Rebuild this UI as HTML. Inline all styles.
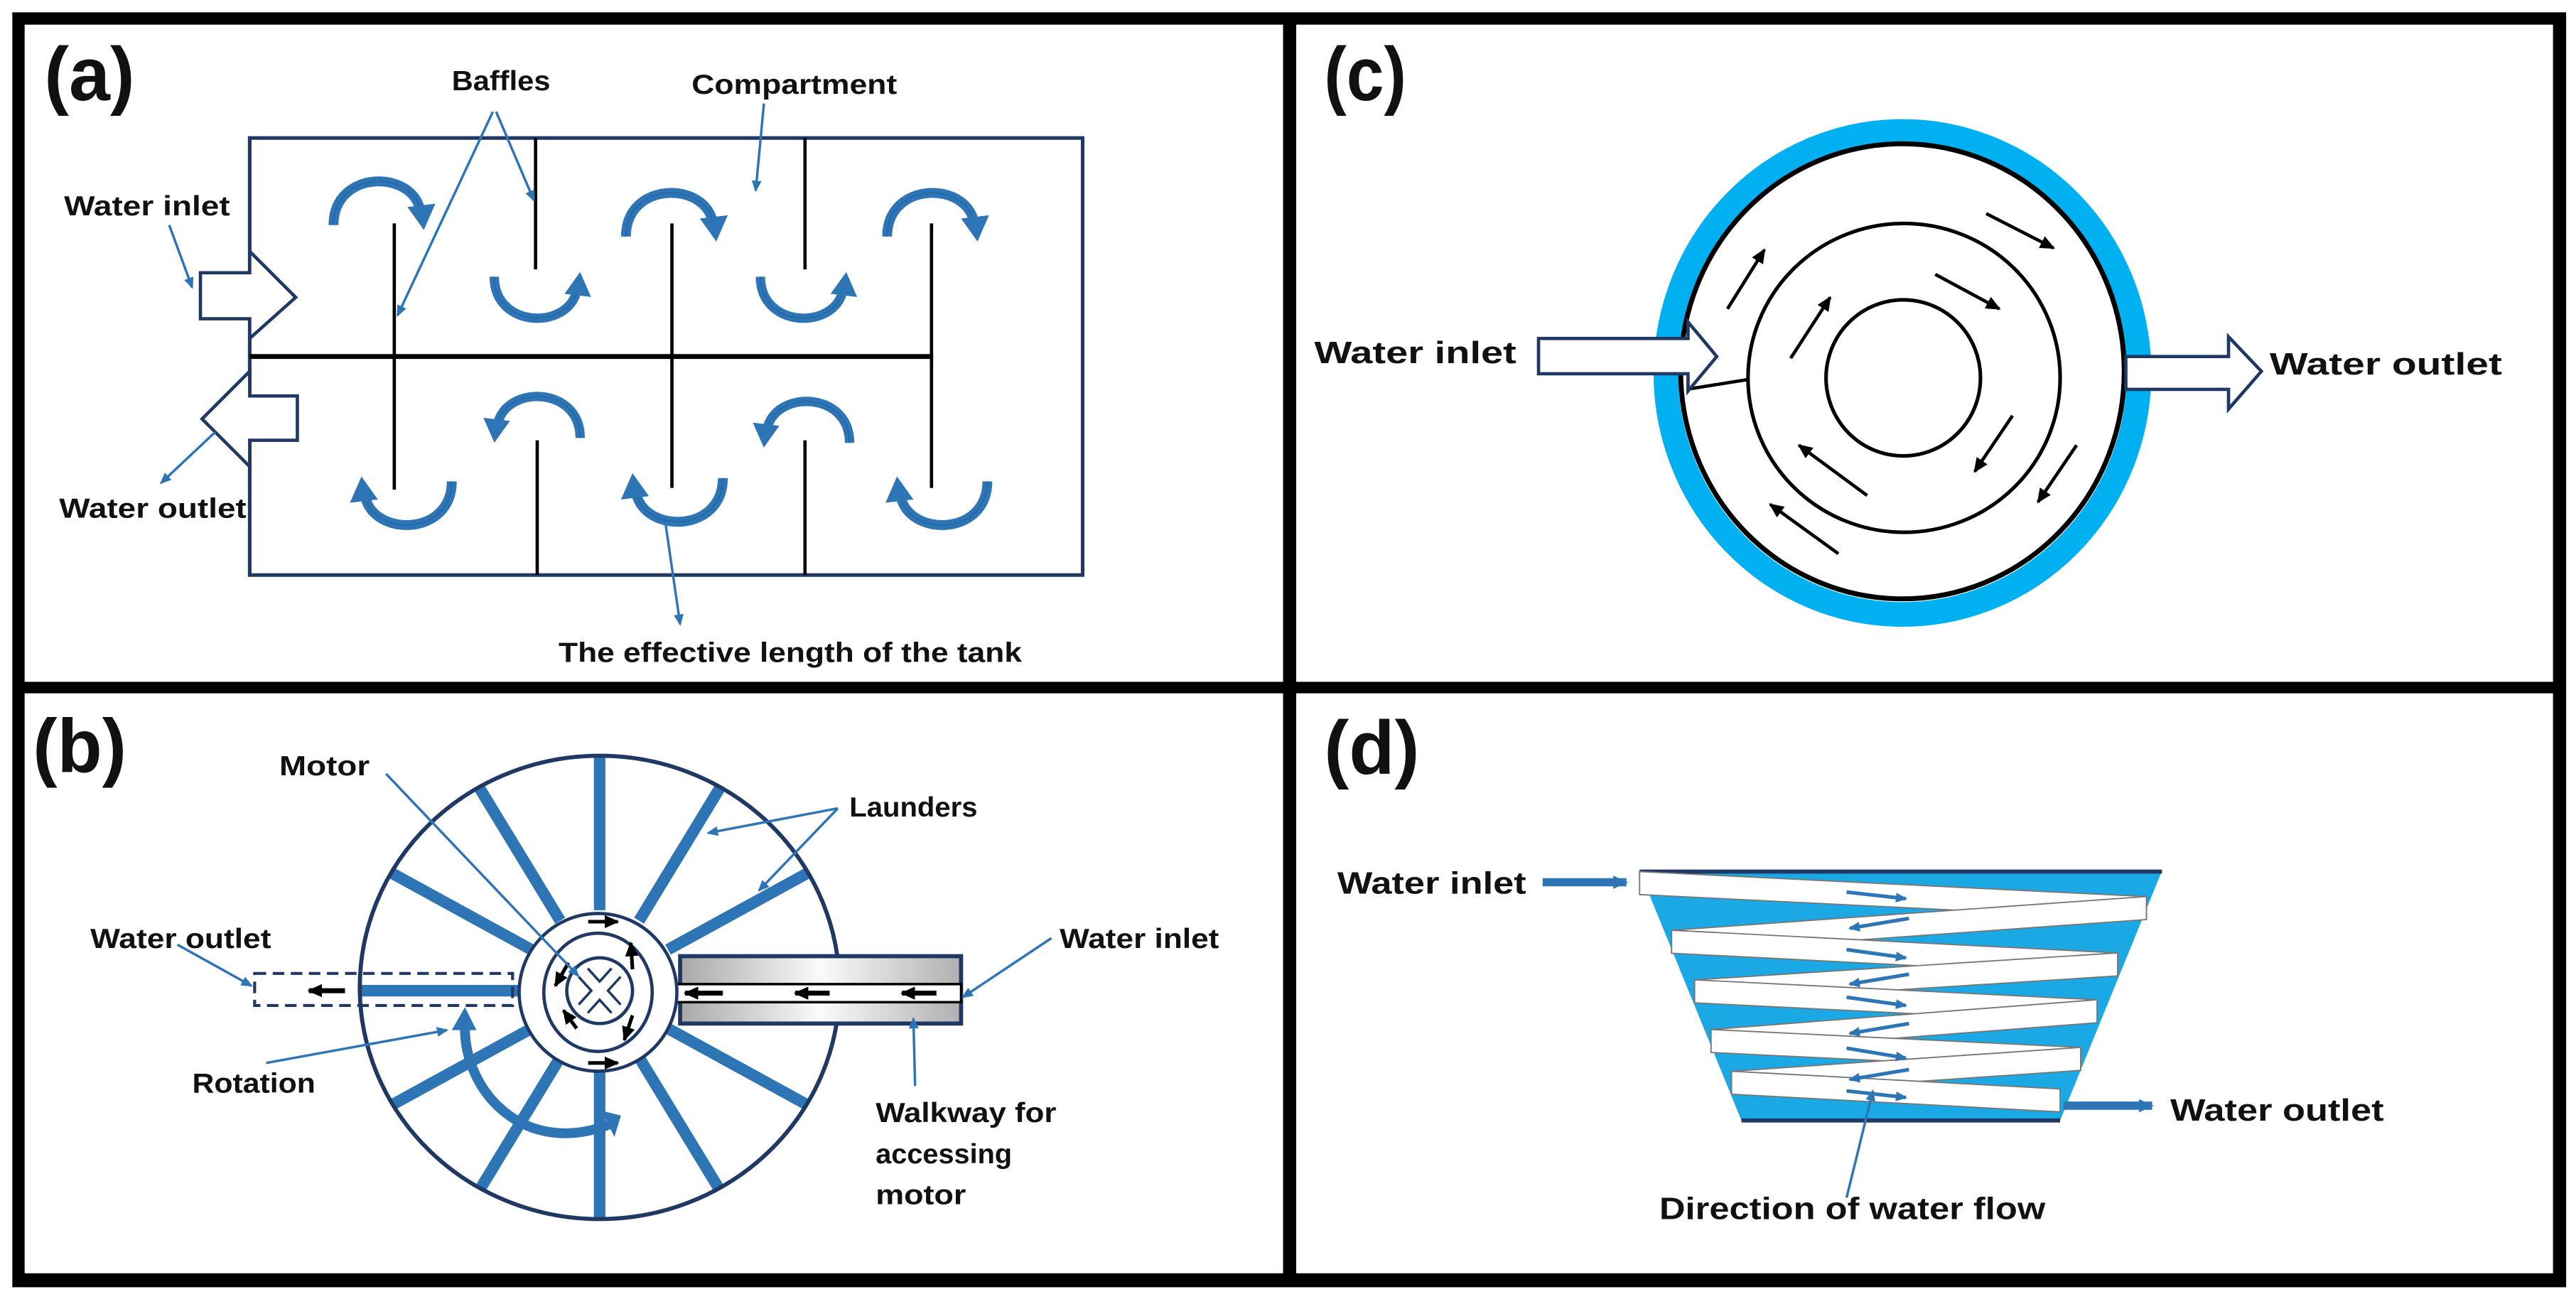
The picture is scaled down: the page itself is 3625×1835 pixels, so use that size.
<!DOCTYPE html>
<html><head><meta charset="utf-8"><style>html,body{margin:0;padding:0;background:#fff}svg{display:block}text{font-family:"Liberation Sans",sans-serif;font-weight:bold;fill:#111}</style></head>
<body>
<svg width="3625" height="1835" viewBox="0 0 1568 793.7" preserveAspectRatio="none" xmlns="http://www.w3.org/2000/svg">
<defs>
<marker id="mb" markerWidth="8" markerHeight="8" refX="6" refY="4" orient="auto" markerUnits="userSpaceOnUse"><path d="M0,1 L7,4 L0,7 z" fill="#2e75b6"/></marker>
<marker id="mk" markerWidth="10" markerHeight="10" refX="8" refY="5" orient="auto" markerUnits="userSpaceOnUse"><path d="M0,1 L9,5 L0,9 z" fill="#000"/></marker>
<marker id="mb2" markerWidth="10" markerHeight="10" refX="8" refY="5" orient="auto" markerUnits="userSpaceOnUse"><path d="M0,1 L9,5 L0,9 z" fill="#2e75b6"/></marker>
<g id="dome">
<path d="M3,28 C3,-6 52,-6 56,20" fill="none" stroke="#2e75b6" stroke-width="6"/>
<path d="M3,28 C3,-6 52,-6 56,20" fill="none" stroke="#1f5f9e" stroke-width="1" opacity="0.5"/>
<polygon points="48,17 65,15 58,31" fill="#2e75b6"/>
</g>
<linearGradient id="gw" x1="0" y1="0" x2="1" y2="0"><stop offset="0" stop-color="#a8a8a8"/><stop offset="0.5" stop-color="#fafafa"/><stop offset="1" stop-color="#b0b0b0"/></linearGradient>
</defs>

<rect x="0" y="0" width="1568" height="793.7" fill="#fff"/>
<rect x="7.5" y="7.5" width="1554.5" height="776" fill="#000"/>
<rect x="15" y="15" width="766" height="400" fill="#fff"/>
<rect x="789" y="15" width="765" height="400" fill="#fff"/>
<rect x="15" y="422" width="766" height="353" fill="#fff"/>
<rect x="789" y="422" width="765" height="353" fill="#fff"/>

<!-- (a) -->
<text x="27" y="61" font-size="46" textLength="55" lengthAdjust="spacingAndGlyphs">(a)</text>
<rect x="152" y="84" width="507" height="266" fill="none" stroke="#1f3864" stroke-width="2.2"/>
<line x1="152" y1="217" x2="568" y2="217" stroke="#000" stroke-width="3"/>
<g stroke="#000" stroke-width="2">
<line x1="240" y1="136" x2="240" y2="298"/>
<line x1="409" y1="136" x2="409" y2="297"/>
<line x1="567" y1="136" x2="567" y2="297"/>
<line x1="326" y1="84" x2="326" y2="164"/>
<line x1="490" y1="84" x2="490" y2="164"/>
<line x1="327" y1="268" x2="327" y2="350"/>
<line x1="490" y1="268" x2="490" y2="350"/>
</g>
<use href="#dome" transform="translate(200,109)"/>
<use href="#dome" transform="translate(378,116)"/>
<use href="#dome" transform="translate(537,116)"/>
<use href="#dome" transform="translate(298,195) scale(0.95,-0.95)"/>
<use href="#dome" transform="translate(460,195) scale(0.95,-0.95)"/>
<use href="#dome" transform="translate(356,240) scale(-0.95,0.95)"/>
<use href="#dome" transform="translate(520,243) scale(-0.95,0.95)"/>
<use href="#dome" transform="translate(278,321) scale(-1,-1)"/>
<use href="#dome" transform="translate(443,319) scale(-1,-1)"/>
<use href="#dome" transform="translate(604,321) scale(-1,-1)"/>
<polygon points="122,166 152,166 152,153 180,181 152,206 152,194 122,194" fill="#fff" stroke="#1f3864" stroke-width="2"/>
<polygon points="181,241 152,241 152,226 123,255 152,284 152,268 181,268" fill="#fff" stroke="#1f3864" stroke-width="2"/>
<g stroke="#2e75b6" stroke-width="1.5" fill="none" marker-end="url(#mb)">
<line x1="103" y1="137" x2="117" y2="175"/>
<line x1="131" y1="263" x2="98" y2="294"/>
<line x1="300" y1="68" x2="242" y2="192"/>
<line x1="302" y1="68" x2="325" y2="122"/>
<line x1="465" y1="63" x2="460" y2="116"/>
<line x1="405" y1="318" x2="414" y2="380"/>
</g>
<text x="39" y="131" font-size="17" textLength="101" lengthAdjust="spacingAndGlyphs">Water inlet</text>
<text x="36" y="315" font-size="17" textLength="114" lengthAdjust="spacingAndGlyphs">Water outlet</text>
<text x="275" y="55" font-size="17" textLength="60" lengthAdjust="spacingAndGlyphs">Baffles</text>
<text x="421" y="57" font-size="17" textLength="125" lengthAdjust="spacingAndGlyphs">Compartment</text>
<text x="340" y="403" font-size="17" textLength="282" lengthAdjust="spacingAndGlyphs">The effective length of the tank</text>

<!-- (c) -->
<text x="806" y="61" font-size="46" textLength="50" lengthAdjust="spacingAndGlyphs">(c)</text>
<ellipse cx="1158" cy="227" rx="144" ry="147" fill="none" stroke="#00b0f0" stroke-width="15"/>
<ellipse cx="1158" cy="226" rx="135" ry="138.5" fill="#fff" stroke="#000" stroke-width="3"/>
<ellipse cx="1159" cy="230" rx="95" ry="94" fill="none" stroke="#000" stroke-width="2.2"/>
<ellipse cx="1158.5" cy="230" rx="47" ry="47.5" fill="none" stroke="#000" stroke-width="2.2"/>
<line x1="1026.5" y1="237" x2="1064" y2="231" stroke="#000" stroke-width="2"/>
<polygon points="936.5,206 1027.5,206 1027.5,196 1045,217 1027.5,238 1027.5,227.5 936.5,227.5" fill="#fff" stroke="#1f3864" stroke-width="2"/>
<polygon points="1294,217 1356.5,217 1356.5,205 1376.5,226 1356.5,249 1356.5,237 1294,237" fill="#fff" stroke="#1f3864" stroke-width="2"/>
<g stroke="#000" stroke-width="2" marker-end="url(#mk)">
<line x1="1051.5" y1="188" x2="1074" y2="152"/>
<line x1="1209" y1="130" x2="1250" y2="151"/>
<line x1="1090" y1="218" x2="1114" y2="181"/>
<line x1="1178" y1="167" x2="1217" y2="188"/>
<line x1="1225" y1="253" x2="1202" y2="287"/>
<line x1="1264" y1="271" x2="1240.5" y2="305.6"/>
<line x1="1136.5" y1="301.6" x2="1095" y2="271"/>
<line x1="1119" y1="337" x2="1077.5" y2="307"/>
</g>
<text x="800" y="221" font-size="19" textLength="123" lengthAdjust="spacingAndGlyphs">Water inlet</text>
<text x="1381.5" y="228" font-size="19" textLength="141.5" lengthAdjust="spacingAndGlyphs">Water outlet</text>

<!-- (b) -->
<text x="20" y="470" font-size="46" textLength="57" lengthAdjust="spacingAndGlyphs">(b)</text>
<g stroke="#2e75b6" stroke-width="7">
<line x1="406.6" y1="578" x2="491.4" y2="531.5"/>
<line x1="389" y1="560.4" x2="438" y2="479.9"/>
<line x1="365" y1="554" x2="365" y2="461"/>
<line x1="341" y1="560.4" x2="292" y2="479.9"/>
<line x1="323.4" y1="578" x2="238.6" y2="531.5"/>
<line x1="317" y1="603" x2="220" y2="603"/>
<line x1="323.4" y1="626" x2="238.6" y2="672.5"/>
<line x1="341" y1="643.6" x2="292" y2="724.1"/>
<line x1="365" y1="650" x2="365" y2="743"/>
<line x1="389" y1="643.6" x2="438" y2="724.1"/>
<line x1="406.6" y1="626" x2="491.4" y2="672.5"/>
</g>
<ellipse cx="365" cy="601" rx="146" ry="141" fill="none" stroke="#1f3864" stroke-width="2.5"/>
<rect x="155" y="592.5" width="157" height="19.5" fill="none" stroke="#1f3864" stroke-width="1.8" stroke-dasharray="7,4"/>
<line x1="210" y1="603" x2="188" y2="603" stroke="#000" stroke-width="3" marker-end="url(#mk)"/>
<rect x="414" y="582" width="171" height="41" fill="url(#gw)" stroke="#1f3864" stroke-width="2.5"/>
<rect x="403" y="599" width="182" height="11" fill="#fff" stroke="#000" stroke-width="1.5"/>
<g stroke="#000" stroke-width="3" marker-end="url(#mk)">
<line x1="440" y1="604.5" x2="417" y2="604.5"/>
<line x1="505" y1="604.5" x2="484" y2="604.5"/>
<line x1="570" y1="604.5" x2="549" y2="604.5"/>
</g>
<circle cx="364" cy="604" r="48" fill="#fff" stroke="#1f3864" stroke-width="2"/>
<ellipse cx="364" cy="604" rx="33" ry="36" fill="#fff" stroke="#1f3864" stroke-width="2"/>
<circle cx="365" cy="603" r="20" fill="#fff" stroke="#1f3864" stroke-width="2"/>
<g stroke="#1f3864" stroke-width="9" stroke-linecap="butt"><line x1="355" y1="592" x2="375" y2="614"/><line x1="375" y1="592" x2="355" y2="614"/></g>
<g stroke="#fff" stroke-width="6"><line x1="355" y1="592" x2="375" y2="614"/><line x1="375" y1="592" x2="355" y2="614"/></g>
<g stroke="#000" stroke-width="2.2" marker-end="url(#mk)">
<line x1="358" y1="561" x2="376" y2="561"/>
<line x1="358" y1="647" x2="376" y2="647"/>
<line x1="346" y1="586" x2="338" y2="600"/>
<line x1="385" y1="590" x2="384" y2="574"/>
<line x1="351" y1="626" x2="343" y2="615"/>
<line x1="385" y1="618" x2="380" y2="633"/>
</g>
<path d="M283,624 C282,665 320,705 372,684" fill="none" stroke="#2e75b6" stroke-width="6"/>
<polygon points="275,627 290,627 283,613" fill="#2e75b6"/>
<polygon points="366,676 378,679 374,692" fill="#2e75b6"/>
<g stroke="#2e75b6" stroke-width="1.5" fill="none" marker-end="url(#mb)">
<line x1="235" y1="471" x2="352" y2="594"/>
<line x1="510" y1="492" x2="431" y2="507"/>
<line x1="510" y1="492" x2="462" y2="542"/>
<line x1="108" y1="575" x2="153" y2="600"/>
<line x1="640" y1="571" x2="586" y2="607"/>
<line x1="162" y1="647" x2="272" y2="627"/>
<line x1="557" y1="661" x2="556" y2="620"/>
</g>
<text x="170" y="472" font-size="17" textLength="55" lengthAdjust="spacingAndGlyphs">Motor</text>
<text x="517" y="497" font-size="17" textLength="78" lengthAdjust="spacingAndGlyphs">Launders</text>
<text x="55" y="577" font-size="17" textLength="110" lengthAdjust="spacingAndGlyphs">Water outlet</text>
<text x="645" y="577" font-size="17" textLength="97" lengthAdjust="spacingAndGlyphs">Water inlet</text>
<text x="117" y="665" font-size="17" textLength="75" lengthAdjust="spacingAndGlyphs">Rotation</text>
<text x="533" y="683" font-size="17" textLength="110" lengthAdjust="spacingAndGlyphs">Walkway for</text>
<text x="533" y="708" font-size="17" textLength="83" lengthAdjust="spacingAndGlyphs">accessing</text>
<text x="533" y="733" font-size="17" textLength="55" lengthAdjust="spacingAndGlyphs">motor</text>

<!-- (d) -->
<text x="806" y="471" font-size="46" textLength="58" lengthAdjust="spacingAndGlyphs">(d)</text>
<polygon points="998,530 1316,530 1254,682 1060,682" fill="#1aa9e4"/>
<line x1="998" y1="530.5" x2="1316" y2="530.5" stroke="#1f3864" stroke-width="2.5"/>
<line x1="1060" y1="682" x2="1254" y2="682" stroke="#1f3864" stroke-width="2.5"/>
<g fill="#fff" stroke="#777" stroke-width="0.8">
<polygon points="998,530.5 1306.5,545.7 1306.5,559.7 998,544.5"/>
<polygon points="1306.5,545.7 1017.5,566.2 1017.5,580.2 1306.5,559.7"/>
<polygon points="1017.5,566.2 1289,580 1289,594 1017.5,580.2"/>
<polygon points="1289,580 1031.5,596.4 1031.5,610.4 1289,594"/>
<polygon points="1031.5,596.4 1276.5,608.5 1276.5,622.5 1031.5,610.4"/>
<polygon points="1276.5,608.5 1041.5,626.6 1041.5,640.6 1276.5,622.5"/>
<polygon points="1041.5,626.6 1266.5,637.5 1266.5,651.5 1041.5,640.6"/>
<polygon points="1266.5,637.5 1054,652 1054,666 1266.5,651.5"/>
<polygon points="1054,652 1254,662.8 1254,676.8 1054,666"/>
</g>
<g stroke="#2e75b6" stroke-width="2.2" marker-end="url(#mb)">
<line x1="1124" y1="543" x2="1160" y2="547"/>
<line x1="1162" y1="559" x2="1126" y2="565"/>
<line x1="1124" y1="578" x2="1160" y2="583"/>
<line x1="1162" y1="593" x2="1126" y2="599"/>
<line x1="1124" y1="607" x2="1160" y2="612"/>
<line x1="1162" y1="623" x2="1126" y2="629"/>
<line x1="1124" y1="638" x2="1160" y2="644"/>
<line x1="1162" y1="651" x2="1126" y2="657"/>
<line x1="1124" y1="664" x2="1160" y2="668"/>
</g>
<line x1="939" y1="537" x2="990" y2="537" stroke="#2e75b6" stroke-width="5" marker-end="url(#mb2)"/>
<line x1="1256" y1="673" x2="1310" y2="673" stroke="#2e75b6" stroke-width="5" marker-end="url(#mb2)"/>
<line x1="1124" y1="729" x2="1140" y2="664" stroke="#2e75b6" stroke-width="1.5" marker-end="url(#mb)"/>
<text x="814" y="544" font-size="19" textLength="115" lengthAdjust="spacingAndGlyphs">Water inlet</text>
<text x="1321" y="682" font-size="19" textLength="130" lengthAdjust="spacingAndGlyphs">Water outlet</text>
<text x="1010" y="742" font-size="19" textLength="235" lengthAdjust="spacingAndGlyphs">Direction of water flow</text>
</svg>
</body></html>
